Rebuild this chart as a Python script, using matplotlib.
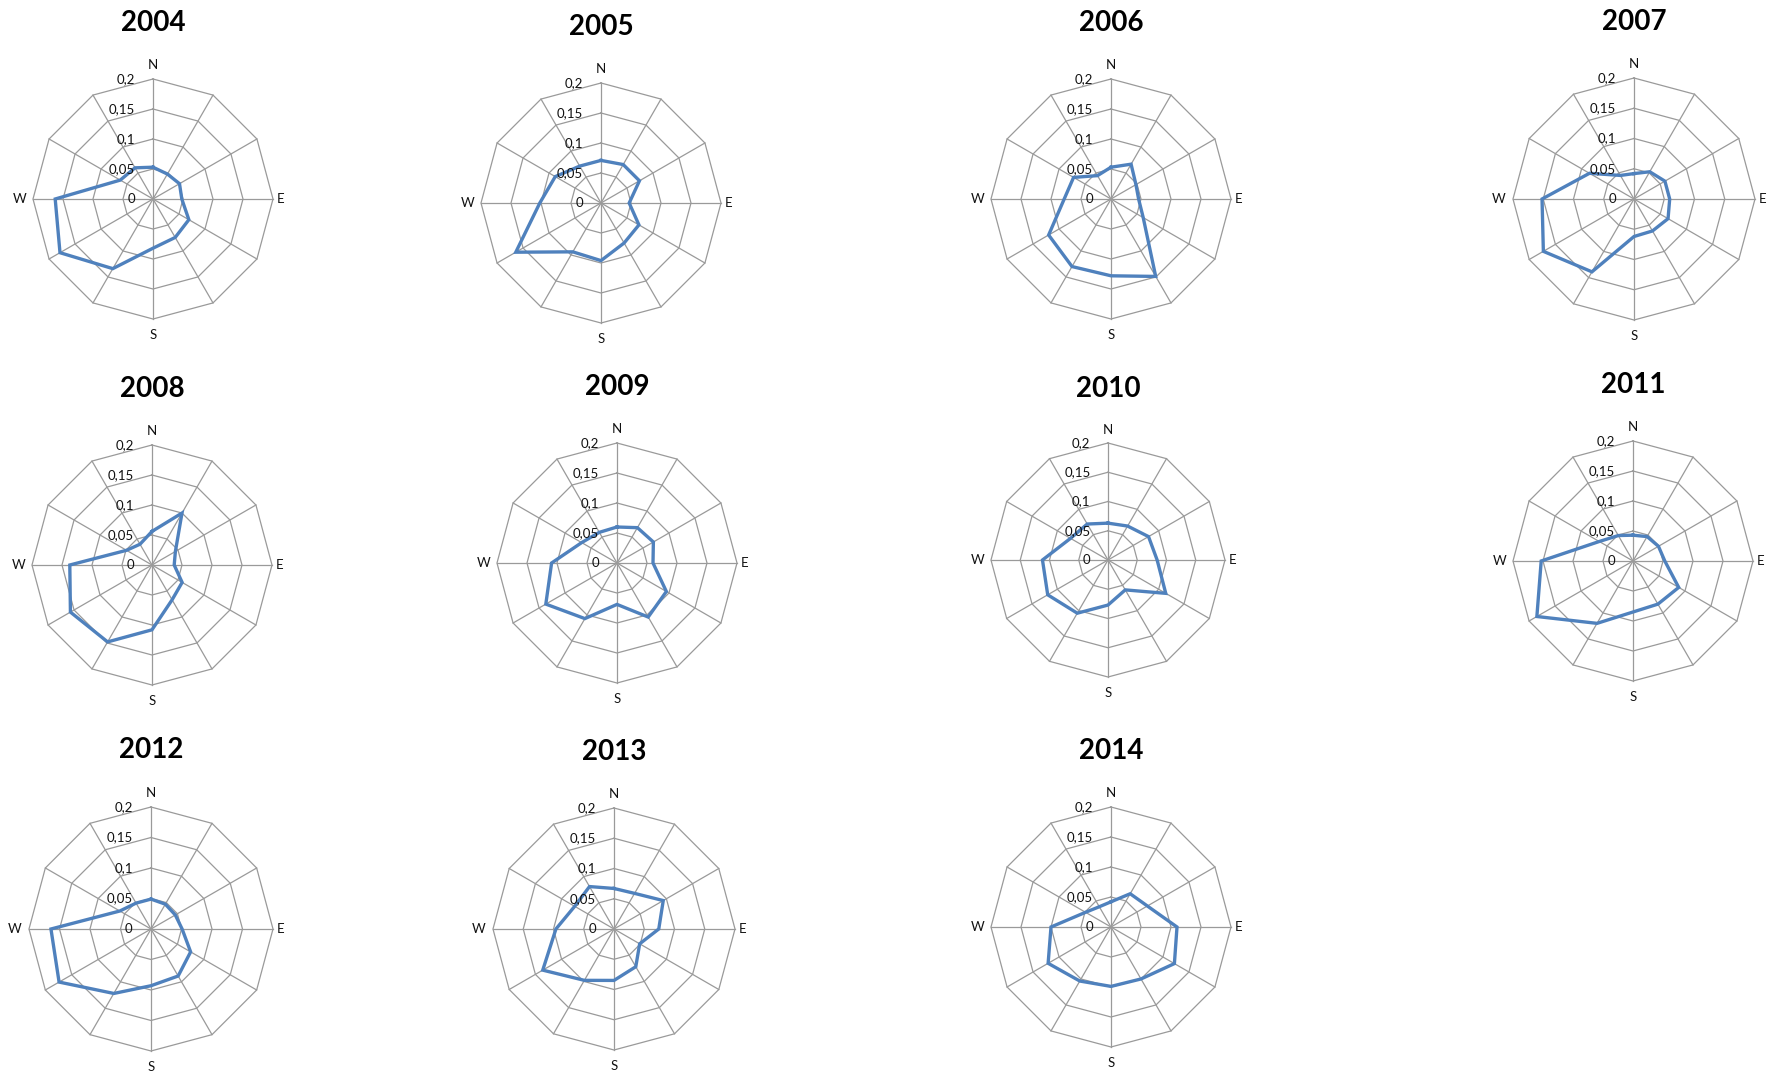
# wind direction frequency roses, one per year (2004-2014)
import numpy as np
import matplotlib.pyplot as plt

years = ["2004", "2005", "2006", "2007", "2008", "2009",
         "2010", "2011", "2012", "2013", "2014"]

# 12 sectors, clockwise from north
directions = ["N", "", "", "E", "", "", "S", "", "", "W", "", ""]
ring_values = [0, 0.05, 0.1, 0.15, 0.2]
ring_labels = ["0", "0,05", "0,1", "0,15", "0,2"]

freq_2004 = [0.053, 0.048, 0.051, 0.048, 0.069, 0.074, 0.082, 0.134, 0.179, 0.163, 0.063, 0.060]
freq_2005 = [0.071, 0.074, 0.074, 0.047, 0.073, 0.077, 0.096, 0.094, 0.164, 0.102, 0.088, 0.071]
freq_2006 = [0.053, 0.067, 0.048, 0.046, 0.062, 0.149, 0.128, 0.130, 0.120, 0.078, 0.072, 0.045]
freq_2007 = [0.042, 0.052, 0.059, 0.059, 0.065, 0.061, 0.062, 0.139, 0.173, 0.152, 0.085, 0.045]
freq_2008 = [0.056, 0.100, 0.045, 0.037, 0.058, 0.067, 0.108, 0.148, 0.157, 0.137, 0.049, 0.040]
freq_2009 = [0.060, 0.068, 0.070, 0.060, 0.095, 0.104, 0.069, 0.107, 0.137, 0.109, 0.068, 0.059]
freq_2010 = [0.063, 0.067, 0.080, 0.084, 0.114, 0.059, 0.077, 0.105, 0.119, 0.112, 0.074, 0.071]
freq_2011 = [0.043, 0.047, 0.049, 0.053, 0.088, 0.083, 0.085, 0.120, 0.185, 0.153, 0.065, 0.049]
freq_2012 = [0.049, 0.047, 0.046, 0.051, 0.075, 0.089, 0.093, 0.122, 0.174, 0.164, 0.059, 0.049]
freq_2013 = [0.067, 0.068, 0.094, 0.074, 0.049, 0.072, 0.085, 0.098, 0.136, 0.096, 0.075, 0.081]
freq_2014 = [0.042, 0.064, 0.070, 0.110, 0.122, 0.100, 0.099, 0.104, 0.121, 0.100, 0.049, 0.039]

all_freqs = [freq_2004, freq_2005, freq_2006, freq_2007, freq_2008, freq_2009,
             freq_2010, freq_2011, freq_2012, freq_2013, freq_2014]

# layout: chart centres and outer radius in pixels
centres = [(153, 199), (601, 203), (1111, 199), (1634, 199),
           (152, 565), (617, 563), (1108, 560), (1633, 561),
           (151, 929), (614, 929), (1111, 927)]
radii = [120, 120, 120, 121, 120, 120, 117, 120, 122, 121, 120]

W, H = 1769, 1075
fig = plt.figure(figsize=(W / 100, H / 100), dpi=100)

theta = np.deg2rad(np.arange(12) * 30)
closed = np.append(theta, theta[0])
grid_col = "#9a9a9a"
line_col = "#4f81bd"
rmax = 0.2
half = 0.3   # data half-width of each little axes

for year, freq, (cx, cy), R in zip(years, all_freqs, centres, radii):
    ph = half / rmax * R
    ax = fig.add_axes([(cx - ph) / W, (H - cy - ph) / H, 2 * ph / W, 2 * ph / H])
    ax.set_xlim(-half, half)
    ax.set_ylim(-half, half)
    ax.axis("off")

    # dodecagon grid + spokes
    for r in ring_values[1:]:
        ax.plot(r * np.sin(closed), r * np.cos(closed), color=grid_col, lw=0.9, zorder=1)
    for t in theta:
        ax.plot([0, rmax * np.sin(t)], [0, rmax * np.cos(t)], color=grid_col, lw=0.9, zorder=1)

    # the series
    vals = np.append(freq, freq[0])
    ax.plot(vals * np.sin(closed), vals * np.cos(closed), color=line_col, lw=2.4,
            solid_joinstyle="miter", zorder=3)

    # radial tick labels along the north spoke
    for v, lab in zip(ring_values, ring_labels):
        ax.text(-0.03, v, lab, ha="right", va="center", fontsize=9.5, family="Lato", color="#111111")

    # direction labels
    for t, d in zip(theta, directions):
        if not d:
            continue
        off = {"N": 0.223, "E": 0.213, "S": 0.227, "W": 0.223}[d]
        ax.text(off * np.sin(t), off * np.cos(t), d, ha="center", va="center",
                fontsize=9.5, family="Lato", color="#111111")

    ax.text(0, 0.293, year, ha="center", va="center", fontsize=20,
            fontweight="bold", family="Lato")

fig.savefig("out.png", dpi=100)
